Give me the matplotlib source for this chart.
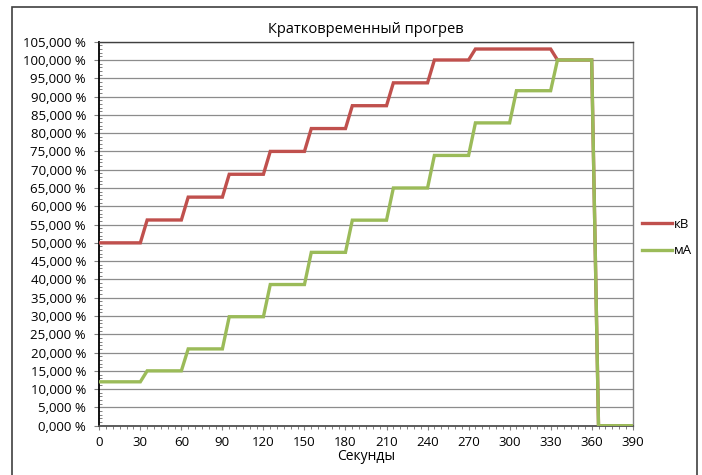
import numpy as np
import matplotlib
matplotlib.use("Agg")
from matplotlib import pyplot as plt
from matplotlib.ticker import MultipleLocator, FuncFormatter
from matplotlib.patches import Rectangle

plt.rcParams['font.family'] = ['Open Sans', 'DejaVu Sans']

# time, seconds
t = [0, 30, 35, 60, 65, 90, 95, 120, 125, 150, 155, 180, 185, 210, 215, 240,
     245, 270, 275, 300, 305, 330, 335, 360, 365, 390]
# кВ, percent
kv = [50, 50, 56.25, 56.25, 62.5, 62.5, 68.75, 68.75, 75, 75, 81.25, 81.25,
      87.5, 87.5, 93.75, 93.75, 100, 100, 103, 103, 103, 103, 100, 100, 0, 0]
# мА, percent
ma = [12, 12, 15, 15, 21, 21, 29.8, 29.8, 38.6, 38.6, 47.4, 47.4, 56.2, 56.2,
      65, 65, 73.9, 73.9, 82.8, 82.8, 91.6, 91.6, 100, 100, 0, 0]

title = "Кратковременный прогрев"
xlabel = "Секунды"
names = ["кВ", "мА"]

fig = plt.figure(figsize=(7.02, 4.75), dpi=100)
ax = fig.add_axes([99.3 / 702, 1 - 425.7 / 475, 533.4 / 702, 384 / 475])

# outer chart frame
fig.patches.append(Rectangle((12 / 702, -0.01), 685 / 702, 1 - 7 / 475 + 0.01,
                             transform=fig.transFigure, fill=False,
                             edgecolor='#404040', linewidth=1.2))

ax.plot(t, kv, color='#C0504D', linewidth=2.4, label=names[0], zorder=3,
        solid_joinstyle='miter')
ax.plot(t, ma, color='#9BBB59', linewidth=2.4, label=names[1], zorder=4,
        solid_joinstyle='miter')

ax.set_xlim(0, 390)
ax.set_ylim(0, 105)
ax.xaxis.set_major_locator(MultipleLocator(30))
ax.xaxis.set_minor_locator(MultipleLocator(5))
ax.yaxis.set_major_locator(MultipleLocator(5))
ax.yaxis.set_minor_locator(MultipleLocator(1))
ax.yaxis.set_major_formatter(FuncFormatter(lambda v, p: f"{v:.3f}".replace('.', ',') + " %"))

ax.grid(axis='y', color='#8c8c8c', linewidth=0.9)
ax.set_axisbelow(True)

ax.tick_params(axis='both', which='major', labelsize=9.5, color='#808080', width=0.8)
ax.tick_params(axis='y', which='major', length=3.6, pad=6)
ax.tick_params(axis='x', which='major', length=3, pad=4.5)
ax.tick_params(axis='y', which='minor', direction='in', length=2.2, color='#808080', width=0.7)
ax.tick_params(axis='x', which='minor', direction='out', length=2.5, color='#808080', width=0.7)

ax.spines['left'].set_color('black')
ax.spines['bottom'].set_color('#505050')
ax.spines['top'].set_color('#404040')
ax.spines['right'].set_color('#808080')
for s in ax.spines.values():
    s.set_linewidth(1.0)
ax.spines['left'].set_linewidth(1.3)
ax.spines['bottom'].set_linewidth(1.3)

ax.set_title(title, fontsize=10.5, pad=6)
ax.set_xlabel(xlabel, fontsize=10, labelpad=0)

ax.legend(loc='center left', bbox_to_anchor=(1.0, 0.49), frameon=False,
          fontsize=9.5, handlelength=2.3, handletextpad=0.15, labelspacing=1.05,
          borderaxespad=0.3)

fig.savefig("out.png", dpi=100)
